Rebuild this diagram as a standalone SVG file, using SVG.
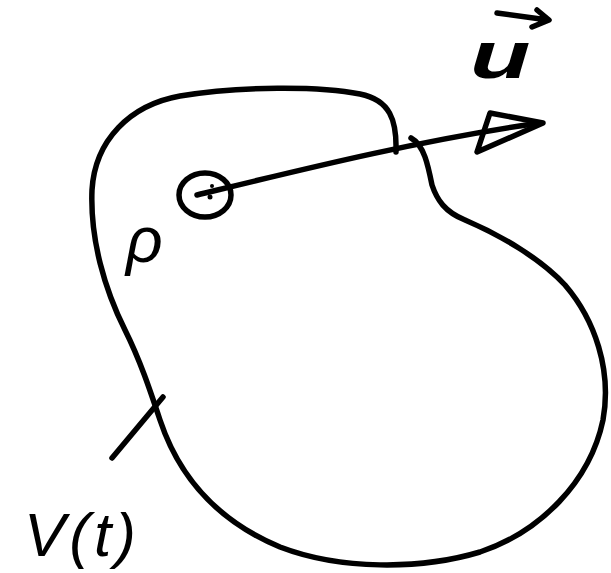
<svg xmlns="http://www.w3.org/2000/svg" width="611" height="573" viewBox="0 0 611 573">
<style>
.s{fill:none;stroke:#000;stroke-width:5.5;stroke-linecap:round;stroke-linejoin:round}
.t{font-family:"Liberation Sans",Arial,sans-serif;fill:#000}
</style>
<rect width="611" height="573" fill="#fff"/>
<g id="volume">
<path class="s" d="M396,152 C397,120 390,100 360,94 C320,86 240,86 180,96 C130,105 95,140 92,190 C90,240 105,290 125,330 C140,360 150,390 160,420 C180,480 220,522 280,547 C340,570 420,570 480,552 C540,532 590,482 603,420 C612,370 595,320 565,285 C540,258 500,235 465,220 C445,212 437,200 432,185 C428,165 424,145 411,138"/>
<path class="s" d="M112,458 L163,397"/>
<text class="t" x="24" y="556" font-size="62" font-style="italic" letter-spacing="4">V(t)</text>
</g>
<g id="particle">
<ellipse class="s" cx="205" cy="195" rx="26" ry="22"/>
<circle cx="210" cy="197" r="2.5"/>
<circle cx="212" cy="186" r="2"/>
<text class="t" x="126" y="262" font-size="64" font-style="italic">ρ</text>
</g>
<g id="connectors">
<path class="s" d="M197,195 C300,170 420,140 540,123"/>
<path class="s" d="M490,113 L543,123 L477,152 Z"/>
</g>
<g id="velocity">
<path class="s" d="M497,13 L548,20 M537,10 L549,20 L532,27"/>
<text class="t" x="0" y="0" font-size="66" font-weight="bold" font-style="italic" transform="translate(470,78) scale(1.5,1)">u</text>
</g>
</svg>
